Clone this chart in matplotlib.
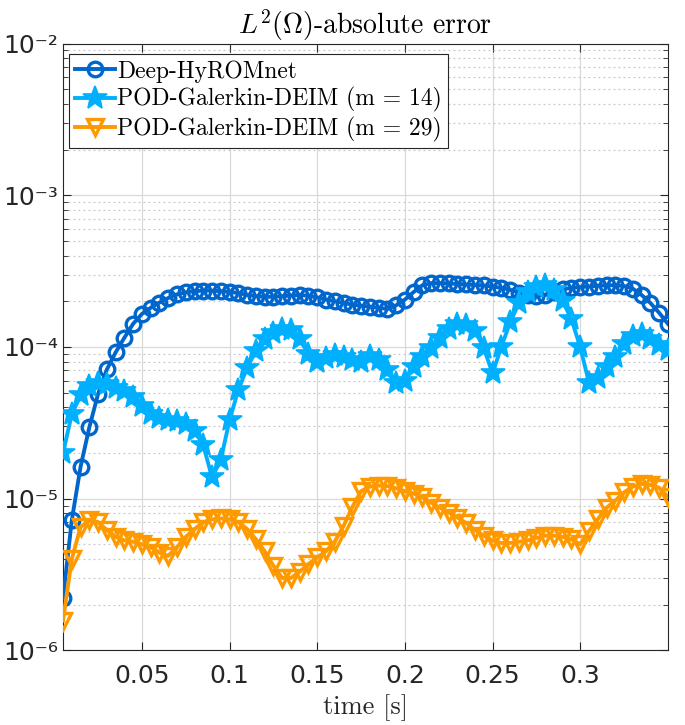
import numpy as np
import matplotlib
matplotlib.use("Agg")
import matplotlib.pyplot as plt
from matplotlib.ticker import LogLocator, NullFormatter

# ---------------- DATA ---------------- #

DT = 0.005
time = DT * np.arange(1, 71)

deep_hyromnet = [
    2.2e-6, 7.2e-6, 1.62e-5, 2.95e-5, 4.9e-5, 7.1e-5, 9.2e-5, 1.15e-4, 1.42e-4, 1.65e-4,
    1.81e-4, 1.96e-4, 2.1e-4, 2.22e-4, 2.29e-4, 2.33e-4, 2.35e-4, 2.35e-4, 2.33e-4, 2.3e-4,
    2.27e-4, 2.2e-4, 2.16e-4, 2.14e-4, 2.14e-4, 2.16e-4, 2.18e-4, 2.2e-4, 2.17e-4, 2.12e-4,
    2.05e-4, 2.0e-4, 1.95e-4, 1.9e-4, 1.87e-4, 1.84e-4, 1.81e-4, 1.78e-4, 1.88e-4, 2.05e-4,
    2.3e-4, 2.55e-4, 2.63e-4, 2.63e-4, 2.62e-4, 2.6e-4, 2.58e-4, 2.56e-4, 2.54e-4, 2.5e-4,
    2.45e-4, 2.38e-4, 2.28e-4, 2.2e-4, 2.17e-4, 2.2e-4, 2.3e-4, 2.4e-4, 2.45e-4, 2.48e-4,
    2.5e-4, 2.53e-4, 2.55e-4, 2.55e-4, 2.52e-4, 2.42e-4, 2.2e-4, 1.95e-4, 1.68e-4, 1.42e-4,
]

pod_m14 = [
    2.0e-5, 3.6e-5, 4.8e-5, 5.5e-5, 5.8e-5, 5.7e-5, 5.4e-5, 5.1e-5, 4.7e-5, 4.1e-5,
    3.6e-5, 3.4e-5, 3.3e-5, 3.25e-5, 3.1e-5, 2.8e-5, 2.25e-5, 1.38e-5, 1.8e-5, 3.3e-5,
    5.2e-5, 7.3e-5, 9.4e-5, 1.12e-4, 1.24e-4, 1.32e-4, 1.3e-4, 1.12e-4, 9.0e-5, 8.0e-5,
    8.4e-5, 8.8e-5, 8.6e-5, 8.2e-5, 8.0e-5, 8.7e-5, 8.2e-5, 7.0e-5, 5.8e-5, 6.0e-5,
    7.4e-5, 8.6e-5, 9.8e-5, 1.15e-4, 1.32e-4, 1.42e-4, 1.4e-4, 1.28e-4, 9.8e-5, 6.7e-5,
    1.0e-4, 1.45e-4, 1.94e-4, 2.31e-4, 2.5e-4, 2.56e-4, 2.38e-4, 2.0e-4, 1.52e-4, 1.0e-4,
    5.8e-5, 6.2e-5, 7.4e-5, 8.6e-5, 1.05e-4, 1.18e-4, 1.22e-4, 1.13e-4, 1.03e-4, 9.5e-5,
]

pod_m29 = [
    1.57e-6, 4.0e-6, 6.5e-6, 7.2e-6, 7.0e-6, 6.2e-6, 5.6e-6, 5.3e-6, 5.2e-6, 5.0e-6,
    4.8e-6, 4.4e-6, 4.2e-6, 4.8e-6, 5.6e-6, 6.3e-6, 7.0e-6, 7.3e-6, 7.4e-6, 7.3e-6,
    7.0e-6, 6.3e-6, 5.4e-6, 4.5e-6, 3.6e-6, 3.0e-6, 3.0e-6, 3.3e-6, 3.7e-6, 4.1e-6,
    4.5e-6, 5.2e-6, 6.6e-6, 8.8e-6, 1.12e-5, 1.2e-5, 1.22e-5, 1.21e-5, 1.17e-5, 1.12e-5,
    1.08e-5, 1.02e-5, 9.4e-6, 8.7e-6, 8.1e-6, 7.5e-6, 6.9e-6, 6.2e-6, 5.7e-6, 5.3e-6,
    5.1e-6, 5.1e-6, 5.2e-6, 5.3e-6, 5.5e-6, 5.7e-6, 5.7e-6, 5.6e-6, 5.4e-6, 5.0e-6,
    6.1e-6, 7.3e-6, 8.7e-6, 9.7e-6, 1.1e-5, 1.2e-5, 1.25e-5, 1.23e-5, 1.18e-5, 1.03e-5,
]

labels = ["Deep-HyROMnet", "POD-Galerkin-DEIM (m = 14)", "POD-Galerkin-DEIM (m = 29)"]

x_ticks = [0.05, 0.1, 0.15, 0.2, 0.25, 0.3]
x_tick_labels = ["0.05", "0.1", "0.15", "0.2", "0.25", "0.3"]
y_ticks = [1e-6, 1e-5, 1e-4, 1e-3, 1e-2]
y_tick_labels = ["10\u207b\u2076", "10\u207b\u2075", "10\u207b\u2074", "10\u207b\u00b3", "10\u207b\u00b2"]

# ---------------- STYLE ---------------- #

plt.rcParams["mathtext.fontset"] = "cm"
plt.rcParams["axes.formatter.use_mathtext"] = True
SERIF = "cmr10"
TEXT_COLOR = "#262626"

# ---------------- PLOT ---------------- #

fig = plt.figure(figsize=(6.85, 7.25), dpi=100)
ax = fig.add_axes([0.092, 0.103, 0.883, 0.837])

ax.plot(time, deep_hyromnet, color="#0066cc", lw=2.8, marker="o", ms=10.5,
        mfc="none", mew=2.4, label=labels[0], zorder=3)
ax.plot(time, pod_m14, color="#00b0ff", lw=2.8, marker="*", ms=18,
        mew=1.2, label=labels[1], zorder=4)
ax.plot(time, pod_m29, color="#ff9900", lw=2.8, marker="v", ms=12,
        mfc="none", mew=2.4, label=labels[2], zorder=5)

ax.set_yscale("log")
ax.set_xlim(0.005, 0.35)
ax.set_ylim(1e-6, 1e-2)

ax.set_xticks(x_ticks)
ax.set_xticklabels(x_tick_labels)
ax.set_yticks(y_ticks)
ax.set_yticklabels(y_tick_labels)
ax.yaxis.set_minor_locator(LogLocator(base=10, subs=np.arange(2, 10), numticks=20))
ax.yaxis.set_minor_formatter(NullFormatter())

ax.tick_params(axis="both", which="both", direction="in", top=True, right=True,
               colors=TEXT_COLOR, labelsize=18)
ax.tick_params(axis="both", which="major", length=6, width=0.8)
ax.tick_params(axis="y", which="minor", length=3.5, width=0.6)
ax.tick_params(axis="x", which="major", pad=10)

ax.grid(True, which="major", color="#d9d9d9", lw=0.9)
ax.grid(True, which="minor", axis="y", color="#c8c8c8", lw=0.9, ls=(0, (1.5, 2.5)))
ax.set_axisbelow(True)

for spine in ax.spines.values():
    spine.set_color(TEXT_COLOR)
    spine.set_linewidth(0.8)

ax.set_title(r"$L^2(\Omega)$-absolute error", fontsize=20, family=SERIF,
             color="black", pad=7)
ax.set_xlabel("time [s]", fontsize=19, family=SERIF, color=TEXT_COLOR, labelpad=4)

leg = ax.legend(loc="upper left", bbox_to_anchor=(0.01, 0.982), fancybox=False,
                framealpha=1, edgecolor="#262626", handlelength=1.7,
                handletextpad=0.1, borderpad=0.24, labelspacing=0.2,
                borderaxespad=0.0, prop={"family": SERIF, "size": 17})
leg.get_frame().set_linewidth(0.8)

fig.savefig("out.png", dpi=100)
